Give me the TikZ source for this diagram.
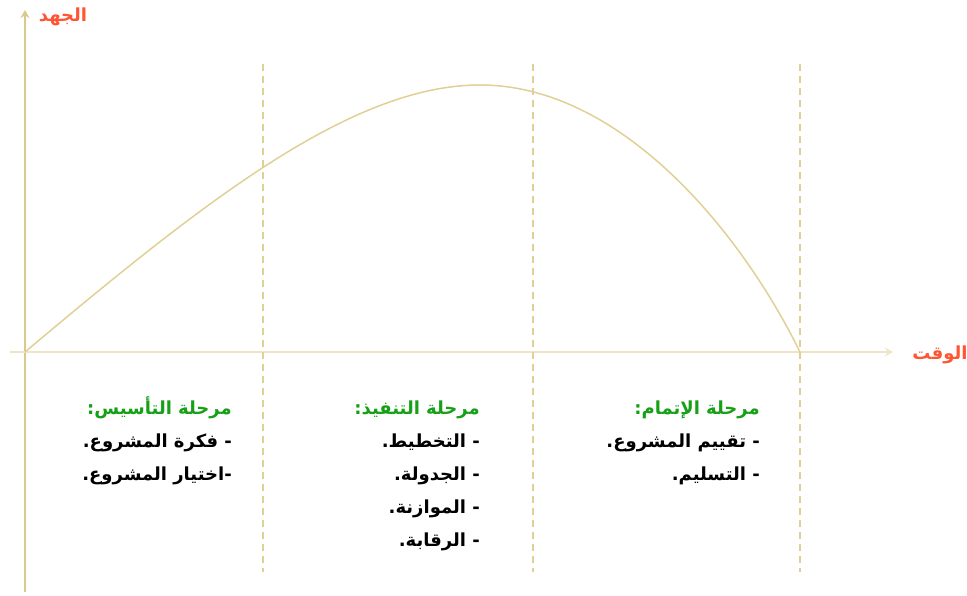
\documentclass[tikz,border=0pt]{standalone}
\usepackage{fontspec}
\usetikzlibrary{arrows.meta}
\newfontfamily\arabicfont[Script=Arabic]{DejaVu Sans}
\TeXXeTstate=1
\newcommand{\ar}[1]{\beginR #1\endR}
\newcommand{\topstrut}{\rule{0pt}{20pt}}
\definecolor{axiscol}{HTML}{D9C98A}
\definecolor{xaxiscol}{HTML}{EFE5C6}
\definecolor{curvecol}{HTML}{E0D096}
\definecolor{labelred}{HTML}{FF5533}
\definecolor{phasegreen}{HTML}{16A016}
\begin{document}
\begin{tikzpicture}[x=1pt,y=-1pt,
    phase/.style={anchor=north east,align=right,inner sep=0pt,
      font=\arabicfont\bfseries\fontsize{18}{33}\selectfont},
    axislabel/.style={font=\arabicfont\bfseries\fontsize{18}{20}\selectfont,text=labelred},
    divider/.style={draw=curvecol,line width=1.2pt,dash pattern=on 7pt off 5pt}]
    \useasboundingbox (0,0) rectangle (967,596);
    \coordinate (o) at (25,352);
    \coordinate (ytop) at (25,10);
    \coordinate (ybot) at (25,592);
    \coordinate (xleft) at (10,352);
    \coordinate (xright) at (893,352);
    \coordinate (peak) at (480,85);
    \coordinate (end) at (800,352);
    % axes
    \path[draw=axiscol,line width=2pt,-{Stealth[length=8pt,width=9pt]}] (ybot) -- (ytop);
    \path[draw=xaxiscol,line width=2pt,-{Stealth[length=8pt,width=9pt]}] (xleft) -- (xright);
    \node[axislabel] (effort) at (63,17) {\ar{الجهد}};
    \node[axislabel] (time) at (940,355) {\ar{الوقت}};
    % dashed phase borders
    \foreach \px in {263,533,800}
        \path[divider] (\px,64) -- (\px,572);
    % effort curve
    \path[draw=curvecol,line width=1.5pt] (o) .. controls (200,205) and (350,85) .. (peak)
        .. controls (620,85) and (740,230) .. (end);
    % phases
    \node[phase] (start) at (232,394) {\topstrut\textcolor{phasegreen}{\ar{مرحلة التأسيس:}}\\
        \ar{- فكرة المشروع.}\\ \ar{-اختيار المشروع.}};
    \node[phase] (exec) at (480,394) {\topstrut\textcolor{phasegreen}{\ar{مرحلة التنفيذ:}}\\
        \ar{- التخطيط.}\\ \ar{- الجدولة.}\\ \ar{- الموازنة.}\\ \ar{- الرقابة.}};
    \node[phase] (close) at (760,394) {\topstrut\textcolor{phasegreen}{\ar{مرحلة الإتمام:}}\\
        \ar{- تقييم المشروع.}\\ \ar{- التسليم.}};
\end{tikzpicture}
\end{document}
